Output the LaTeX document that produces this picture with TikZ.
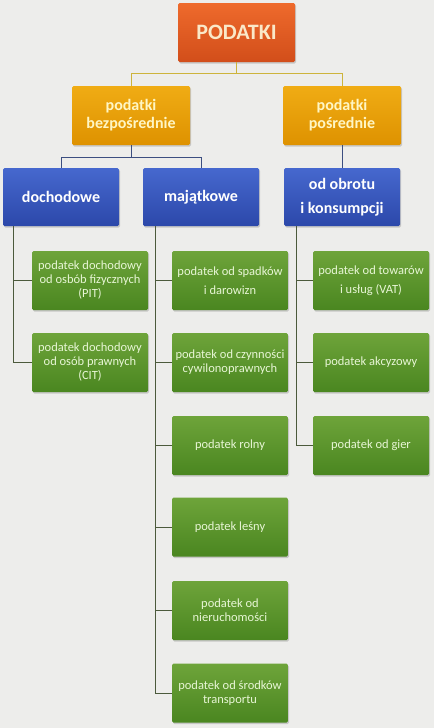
\documentclass[tikz,border=0pt]{standalone}
\usepackage{fontspec}
\setmainfont{Carlito}
\usetikzlibrary{positioning,calc,shadows}
\definecolor{paper}{RGB}{237,237,235}
\definecolor{redtop}{RGB}{238,106,44}
\definecolor{redbot}{RGB}{210,78,26}
\definecolor{redtext}{RGB}{250,232,200}
\definecolor{goldtop}{RGB}{240,172,20}
\definecolor{goldbot}{RGB}{222,146,0}
\definecolor{goldtext}{RGB}{255,246,196}
\definecolor{bluetop}{RGB}{70,104,206}
\definecolor{bluebot}{RGB}{44,72,170}
\definecolor{greentop}{RGB}{110,164,58}
\definecolor{greenbot}{RGB}{74,134,32}
\definecolor{greentext}{RGB}{232,246,214}
\definecolor{yelline}{RGB}{205,180,60}
\definecolor{blueline}{RGB}{60,78,128}
\definecolor{greenline}{RGB}{76,90,60}
\tikzset{
  x=1pt, y=-1pt,
  box/.style={rounded corners=1.5pt, inner sep=3pt, align=center,
    drop shadow={opacity=0.35, shadow xshift=1pt, shadow yshift=-1.5pt}},
  top/.style={box, top color=redtop, bottom color=redbot, text=redtext,
    minimum width=117pt, minimum height=59pt, font=\fontsize{22}{26}\selectfont\bfseries},
  kind/.style={box, top color=goldtop, bottom color=goldbot, text=goldtext,
    minimum width=118pt, minimum height=59pt, font=\fontsize{16}{18}\selectfont\bfseries},
  group/.style={box, top color=bluetop, bottom color=bluebot, text=white,
    minimum width=116pt, minimum height=58pt, font=\fontsize{16}{24}\selectfont\bfseries},
  tax/.style={box, top color=greentop, bottom color=greenbot, text=greentext,
    minimum width=116pt, minimum height=59pt, font=\fontsize{12.5}{14}\selectfont},
  yel/.style={draw=yelline, line width=1pt},
  blu/.style={draw=blueline, line width=1pt},
  grn/.style={draw=greenline, line width=1pt},
}
\begin{document}
\begin{tikzpicture}
  \fill[paper] (0,0) rectangle (434,728);
  \useasboundingbox (0,0) rectangle (434,728);
  % top levels
  \node[top] (P) at (236.5,32.5) {PODATKI};
  \node[kind] (bez) at (131,115.5) {podatki\\bezpośrednie};
  \node[kind] (pos) at (342,115.5) {podatki\\pośrednie};
  \node[group] (doch) at (61,197) {dochodowe};
  \node[group] (maj) at (201,197) {majątkowe};
  \node[group] (obr) at (342,197) {od obrotu\\i konsumpcji};
  % single taxes
  \node[tax] (pit) at (90,280.5) {podatek dochodowy\\od osbób fizycznych\\(PIT)};
  \node[tax] (cit) at (90,362.5) {podatek dochodowy\\od osób prawnych\\(CIT)};
  \node[tax] (spad) at (230,280.5) {podatek od spadków\\[5pt]i darowizn};
  \node[tax] (czyn) at (230,362.5) {podatek od czynności\\cywilonoprawnych};
  \node[tax] (roln) at (230,445.5) {podatek rolny};
  \node[tax] (lesn) at (230,527) {podatek leśny};
  \node[tax] (nier) at (230,610.5) {podatek od\\nieruchomości};
  \node[tax] (trans) at (230,693) {podatek od środków\\transportu};
  \node[tax] (vat) at (371,280.5) {podatek od towarów\\[5pt]i usług (VAT)};
  \node[tax] (akc) at (371,362.5) {podatek akcyzowy};
  \node[tax] (gier) at (371,445.5) {podatek od gier};
  % connectors
  \draw[yel] (P.south) -- ++(0,11) -| (bez.north);
  \draw[yel] (P.south) -- ++(0,11) -| (pos.north);
  \draw[blu] (bez.south) -- ++(0,12) -| (doch.north);
  \draw[blu] (bez.south) -- ++(0,12) -| (maj.north);
  \draw[blu] (pos.south) -- (obr.north);
  \foreach \t in {pit,cit} \draw[grn] ($(doch.south west)+(11,0)$) |- (\t.west);
  \foreach \t in {spad,czyn,roln,lesn,nier,trans} \draw[grn] ($(maj.south west)+(13,0)$) |- (\t.west);
  \foreach \t in {vat,akc,gier} \draw[grn] ($(obr.south west)+(13,0)$) |- (\t.west);
\end{tikzpicture}
\end{document}
